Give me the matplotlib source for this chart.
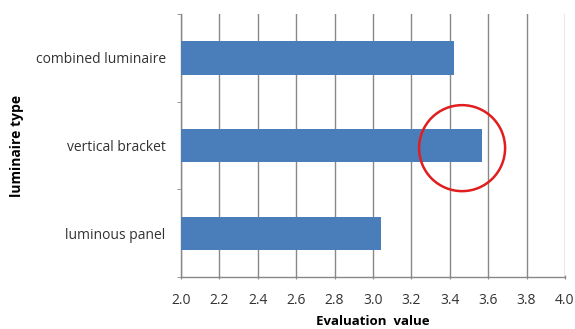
import matplotlib
matplotlib.use("Agg")
import matplotlib.pyplot as plt
from matplotlib.patches import Ellipse
import numpy as np

categories = ["luminous panel", "vertical bracket", "combined luminaire"]
values = [3.04, 3.57, 3.42]
xticks = [2.0, 2.2, 2.4, 2.6, 2.8, 3.0, 3.2, 3.4, 3.6, 3.8, 4.0]

plt.rcParams['font.family'] = ['Open Sans', 'DejaVu Sans']

fig = plt.figure(figsize=(5.75, 3.29), dpi=100)
ax = fig.add_axes([0.3148, 0.158, 0.6678, 0.7994])

y = np.arange(len(categories))
ax.barh(y, values, height=0.38, color="#4a7ebb", zorder=3)

ax.set_xlim(2.0, 4.0)
ax.set_ylim(-0.5, 2.5)
ax.set_xticks(xticks)
ax.set_xticklabels([f"{t:.1f}" for t in xticks], fontsize=10, color="#333333")
ax.set_yticks(y)
ax.set_yticklabels(categories, fontsize=10, color="#333333")
ax.set_yticks([-0.5, 0.5, 1.5, 2.5], minor=True)
ax.tick_params(axis='y', which='major', length=0, pad=11)
ax.tick_params(axis='y', which='minor', length=3, color="#888888", direction='out')
ax.tick_params(axis='x', which='major', length=3, color="#888888", direction='inout', pad=10)

ax.grid(axis='x', color="#888888", linewidth=1, zorder=0)
for s in ['top', 'right']:
    ax.spines[s].set_visible(False)
for s in ['left', 'bottom']:
    ax.spines[s].set_color("#888888")
    ax.spines[s].set_linewidth(1)

ax.set_xlabel("Evaluation  value", fontsize=9.5, fontweight='bold', labelpad=5)
ax.set_ylabel("luminaire type", fontsize=10, fontweight='bold', labelpad=8)

circ = Ellipse((0.732, 0.49), 0.224, 0.327, transform=ax.transAxes,
               fill=False, edgecolor="#e01e1e", linewidth=1.8, zorder=5, clip_on=False)
ax.add_patch(circ)

fig.savefig("out.png", dpi=100)
